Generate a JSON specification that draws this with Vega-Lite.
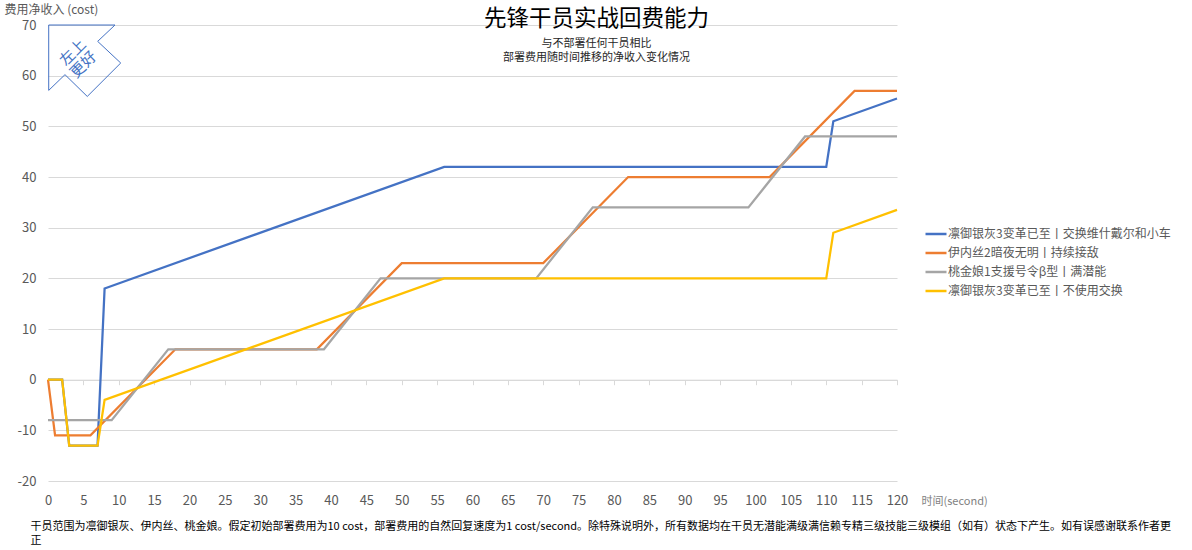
{
  "$schema": "https://vega.github.io/schema/vega-lite/v6.json",
  "autosize": {"type": "none"},
  "padding": {"left": 48, "top": 25, "right": 295, "bottom": 69},
  "width": 849,
  "height": 456,
  "background": "white",
  "config": {"font": "Noto Sans CJK SC", "view": {"stroke": null}},
  "title": {
    "text": "先锋干员实战回费能力",
    "subtitle": ["与不部署任何干员相比", "部署费用随时间推移的净收入变化情况"],
    "anchor": "middle",
    "frame": "group",
    "dx": 124,
    "fontSize": 22.5,
    "fontWeight": "normal",
    "color": "#000000",
    "subtitleFontSize": 11,
    "subtitleColor": "#262626",
    "subtitleLineHeight": 13.5,
    "subtitlePadding": 8,
    "offset": -59
  },
  "datasets": {
    "series": [
      {"series": "凛御银灰3变革已至丨交换维什戴尔和小车", "time": 0, "cost": 0},
      {"series": "凛御银灰3变革已至丨交换维什戴尔和小车", "time": 2, "cost": 0},
      {"series": "凛御银灰3变革已至丨交换维什戴尔和小车", "time": 3, "cost": -13},
      {"series": "凛御银灰3变革已至丨交换维什戴尔和小车", "time": 7, "cost": -13},
      {"series": "凛御银灰3变革已至丨交换维什戴尔和小车", "time": 8, "cost": 18},
      {"series": "凛御银灰3变革已至丨交换维什戴尔和小车", "time": 56, "cost": 42},
      {"series": "凛御银灰3变革已至丨交换维什戴尔和小车", "time": 110, "cost": 42},
      {"series": "凛御银灰3变革已至丨交换维什戴尔和小车", "time": 111, "cost": 51},
      {"series": "凛御银灰3变革已至丨交换维什戴尔和小车", "time": 120, "cost": 55.5},
      {"series": "伊内丝2暗夜无明丨持续接敌", "time": 0, "cost": 0},
      {"series": "伊内丝2暗夜无明丨持续接敌", "time": 1, "cost": -11},
      {"series": "伊内丝2暗夜无明丨持续接敌", "time": 6, "cost": -11},
      {"series": "伊内丝2暗夜无明丨持续接敌", "time": 18, "cost": 6},
      {"series": "伊内丝2暗夜无明丨持续接敌", "time": 38, "cost": 6},
      {"series": "伊内丝2暗夜无明丨持续接敌", "time": 50, "cost": 23},
      {"series": "伊内丝2暗夜无明丨持续接敌", "time": 70, "cost": 23},
      {"series": "伊内丝2暗夜无明丨持续接敌", "time": 82, "cost": 40},
      {"series": "伊内丝2暗夜无明丨持续接敌", "time": 102, "cost": 40},
      {"series": "伊内丝2暗夜无明丨持续接敌", "time": 114, "cost": 57},
      {"series": "伊内丝2暗夜无明丨持续接敌", "time": 120, "cost": 57},
      {"series": "桃金娘1支援号令β型丨满潜能", "time": 0, "cost": -8},
      {"series": "桃金娘1支援号令β型丨满潜能", "time": 9, "cost": -8},
      {"series": "桃金娘1支援号令β型丨满潜能", "time": 17, "cost": 6},
      {"series": "桃金娘1支援号令β型丨满潜能", "time": 39, "cost": 6},
      {"series": "桃金娘1支援号令β型丨满潜能", "time": 47, "cost": 20},
      {"series": "桃金娘1支援号令β型丨满潜能", "time": 69, "cost": 20},
      {"series": "桃金娘1支援号令β型丨满潜能", "time": 77, "cost": 34},
      {"series": "桃金娘1支援号令β型丨满潜能", "time": 99, "cost": 34},
      {"series": "桃金娘1支援号令β型丨满潜能", "time": 107, "cost": 48},
      {"series": "桃金娘1支援号令β型丨满潜能", "time": 120, "cost": 48},
      {"series": "凛御银灰3变革已至丨不使用交换", "time": 0, "cost": 0},
      {"series": "凛御银灰3变革已至丨不使用交换", "time": 2, "cost": 0},
      {"series": "凛御银灰3变革已至丨不使用交换", "time": 3, "cost": -13},
      {"series": "凛御银灰3变革已至丨不使用交换", "time": 7, "cost": -13},
      {"series": "凛御银灰3变革已至丨不使用交换", "time": 8, "cost": -4},
      {"series": "凛御银灰3变革已至丨不使用交换", "time": 56, "cost": 20},
      {"series": "凛御银灰3变革已至丨不使用交换", "time": 110, "cost": 20},
      {"series": "凛御银灰3变革已至丨不使用交换", "time": 111, "cost": 29},
      {"series": "凛御银灰3变革已至丨不使用交换", "time": 120, "cost": 33.5}
    ],
    "arrow": [
      {"i": 0, "time": 0.1, "cost": 70},
      {"i": 1, "time": 9.47, "cost": 70},
      {"i": 2, "time": 7.02, "cost": 66.77},
      {"i": 3, "time": 10.28, "cost": 62.5},
      {"i": 4, "time": 5.55, "cost": 55.9},
      {"i": 5, "time": 2.4, "cost": 60.2},
      {"i": 6, "time": 0.1, "cost": 57.1},
      {"i": 7, "time": 0.1, "cost": 70}
    ],
    "arrowText": [
      {"label": "左上", "time": 3.5, "cost": 64.6},
      {"label": "更好", "time": 5.0, "cost": 62.2}
    ]
  },
  "resolve": {"axis": {"x": "independent"}},
  "layer": [
    {
      "data": {"name": "series"},
      "mark": {"type": "line", "strokeWidth": 2.25},
      "encoding": {
        "x": {
          "field": "time",
          "type": "quantitative",
          "scale": {"domain": [0, 120], "nice": false, "zero": false},
          "axis": {
            "orient": "bottom",
            "values": [0, 5, 10, 15, 20, 25, 30, 35, 40, 45, 50, 55, 60, 65, 70, 75, 80, 85, 90, 95, 100, 105, 110, 115, 120],
            "grid": false,
            "domain": false,
            "ticks": false,
            "labelFontSize": 13,
            "labelColor": "#595959",
            "labelPadding": 13,
            "labelFlush": false,
            "title": "时间(second)",
            "titleX": 873,
            "titleY": 20,
            "titleAlign": "left",
            "titleAnchor": null,
            "titleBaseline": "middle",
            "titleFontSize": 11,
            "titleFontWeight": "normal",
            "titleColor": "#7f7f7f"
          }
        },
        "y": {
          "field": "cost",
          "type": "quantitative",
          "scale": {"domain": [-20, 70], "nice": false},
          "axis": {
            "values": [-20, -10, 0, 10, 20, 30, 40, 50, 60, 70],
            "labelExpr": "'' + datum.value",
            "grid": true,
            "gridColor": "#d9d9d9",
            "gridWidth": 1,
            "domain": false,
            "ticks": false,
            "labelFontSize": 13,
            "labelColor": "#595959",
            "labelPadding": 12,
            "title": "费用净收入 (cost)",
            "titleAngle": 0,
            "titleX": -44,
            "titleY": -15.5,
            "titleAlign": "left",
            "titleAnchor": null,
            "titleBaseline": "middle",
            "titleFontSize": 12,
            "titleFontWeight": "normal",
            "titleColor": "#595959"
          }
        },
        "color": {
          "field": "series",
          "type": "nominal",
          "scale": {
            "domain": ["凛御银灰3变革已至丨交换维什戴尔和小车", "伊内丝2暗夜无明丨持续接敌", "桃金娘1支援号令β型丨满潜能", "凛御银灰3变革已至丨不使用交换"],
            "range": ["#4472C4", "#ED7D31", "#A5A5A5", "#FFC000"]
          },
          "legend": {
            "orient": "none",
            "legendX": 876,
            "legendY": 197,
            "title": null,
            "symbolType": "stroke",
            "symbolSize": 441,
            "symbolStrokeWidth": 2.5,
            "labelFontSize": 12,
            "labelColor": "#595959",
            "labelOffset": 0,
            "labelLimit": 400,
            "rowPadding": 1
          }
        }
      }
    },
    {
      "data": {"name": "arrow"},
      "mark": {"type": "line", "strokeWidth": 1, "color": "#4472C4"},
      "encoding": {
        "x": {
          "field": "time",
          "type": "quantitative",
          "axis": {
            "orient": "bottom",
            "offset": -101.3,
            "values": [0, 5, 10, 15, 20, 25, 30, 35, 40, 45, 50, 55, 60, 65, 70, 75, 80, 85, 90, 95, 100, 105, 110, 115, 120],
            "labels": false,
            "grid": false,
            "domain": true,
            "domainColor": "#d9d9d9",
            "domainWidth": 1,
            "ticks": true,
            "tickColor": "#d9d9d9",
            "tickSize": 5,
            "title": ["干员范围为凛御银灰、伊内丝、桃金娘。假定初始部署费用为10 cost，部署费用的自然回复速度为1 cost/second。除特殊说明外，所有数据均在干员无潜能满级满信赖专精三级技能三级模组（如有）状态下产生。如有误感谢联系作者更", "正"],
            "titleX": -18,
            "titleY": 141,
            "titleAlign": "left",
            "titleAnchor": null,
            "titleBaseline": "top",
            "titleFontSize": 11,
            "titleLineHeight": 14,
            "titleFontWeight": "normal",
            "titleColor": "#000000",
            "titleLimit": 1300
          }
        },
        "y": {"field": "cost", "type": "quantitative"},
        "order": {"field": "i", "type": "quantitative"}
      }
    },
    {
      "data": {"name": "arrowText"},
      "mark": {"type": "text", "angle": 315, "fontSize": 15, "color": "#4472C4", "align": "center", "baseline": "middle"},
      "encoding": {
        "x": {"field": "time", "type": "quantitative", "axis": null},
        "y": {"field": "cost", "type": "quantitative"},
        "text": {"field": "label"}
      }
    }
  ]
}
